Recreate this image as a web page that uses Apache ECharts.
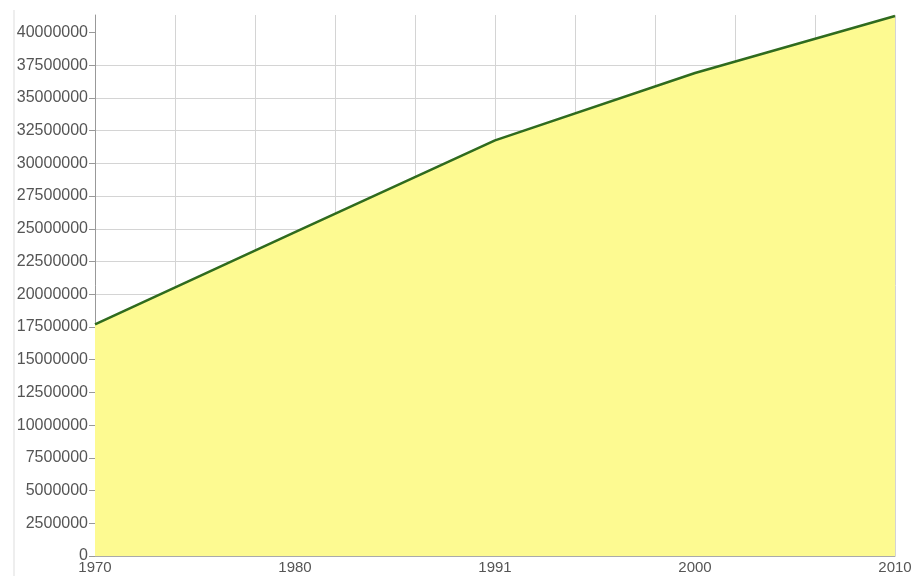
<!DOCTYPE html>
<html>
<head>
<meta charset="utf-8">
<title>ECharts</title>
<script src="https://cdn.jsdelivr.net/npm/echarts@6/dist/echarts.min.js"></script>
<style>
  html, body { margin: 0; padding: 0; background: #fff; }
</style>
</head>
<body>
<div id="main" style="width:916px;height:576px;"></div>
<script type="text/javascript">
// data
var years = ['1970', '1980', '1991', '2000', '2010'];
var population = [17700000, 24750000, 31750000, 36900000, 41250000];
var yTicks = [0, 2500000, 5000000, 7500000, 10000000, 12500000, 15000000, 17500000,
              20000000, 22500000, 25000000, 27500000, 30000000, 32500000, 35000000,
              37500000, 40000000];

var myChart = echarts.init(document.getElementById('main'));

var option = {
    animation: false,
    backgroundColor: '#fff',
    grid: { left: 95, right: 21, top: 15, bottom: 20, containLabel: false },
    xAxis: [{
        type: 'category',
        boundaryGap: false,
        data: years,
        axisLine: { lineStyle: { color: '#aaa', width: 1 } },
        axisTick: { show: false },
        axisLabel: { color: '#555', fontSize: 15, fontFamily: 'Liberation Sans', margin: 4 },
        splitLine: { show: false }
    }, {
        // only used for the vertical grid lines
        type: 'value',
        position: 'top',
        min: 0,
        max: 10,
        interval: 1,
        axisLine: { show: false },
        axisTick: { show: false },
        axisLabel: { show: false },
        splitLine: { show: true, lineStyle: { color: '#d4d4d4', width: 1 } }
    }],
    yAxis: {
        type: 'value',
        min: 0,
        max: function (v) { return v.max + 80000; },
        axisLine: { show: true, lineStyle: { color: '#999', width: 1 } },
        axisTick: { show: true, length: 6, lineStyle: { color: '#999' }, customValues: yTicks },
        axisLabel: {
            color: '#555', fontSize: 16, fontFamily: 'Liberation Sans', margin: 7,
            customValues: yTicks,
            formatter: function (v) { return String(v); }
        },
        splitLine: { show: true, showMaxLine: false, lineStyle: { color: '#d4d4d4', width: 1 } }
    },
    graphic: [{
        type: 'line',
        shape: { x1: 14, y1: 10, x2: 14, y2: 576 },
        style: { stroke: '#ddd', lineWidth: 1 }
    }],
    series: [{
        type: 'line',
        data: population,
        symbol: 'none',
        lineStyle: { color: '#2f6b1e', width: 2.5 },
        areaStyle: { color: '#fdfa91', opacity: 1 },
        z: 3
    }]
};

myChart.setOption(option);
</script>
</body>
</html>
